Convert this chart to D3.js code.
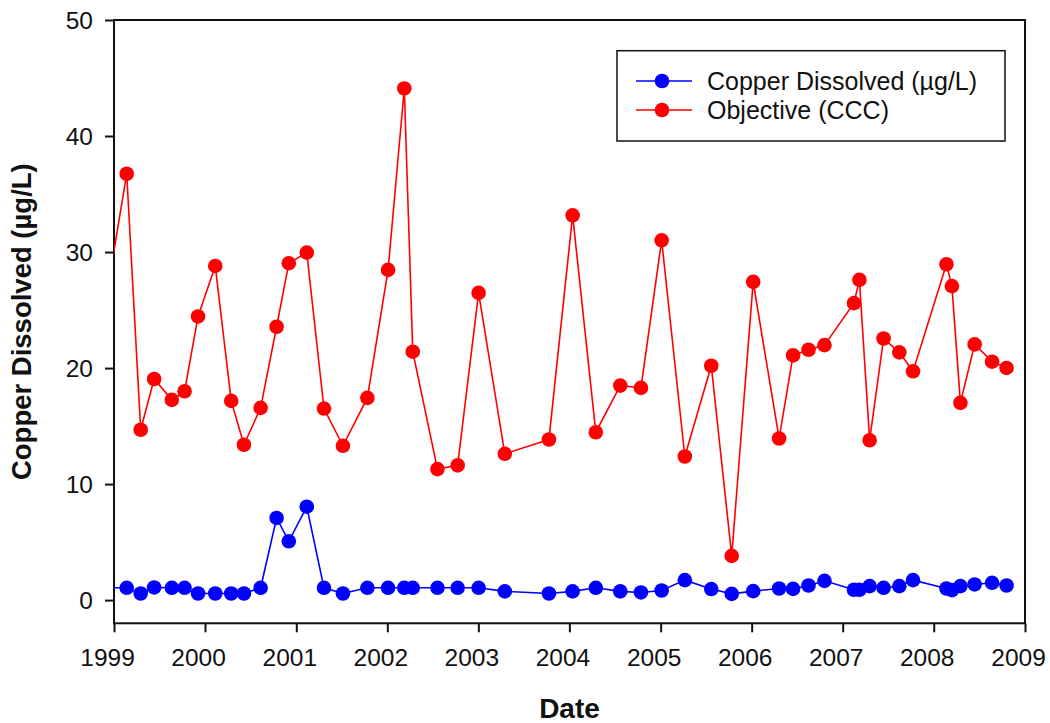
<!DOCTYPE html>
<html>
<head>
<meta charset="utf-8">
<script src="https://cdn.jsdelivr.net/npm/d3@7"></script>
<style>
  html, body { margin: 0; padding: 0; background: #fff; }
  svg { display: block; font-family: "Liberation Sans", Arial, sans-serif; }
</style>
</head>
<body>
<svg id="chart" width="1050" height="723"></svg>
<script>
// ---- Data ----
const sampleDates = [
  "1998-12-01",
  "1999-02-21", "1999-04-18", "1999-06-11", "1999-08-21", "1999-10-11", "1999-12-04",
  "2000-02-11", "2000-04-15", "2000-06-05", "2000-08-11", "2000-10-14", "2000-12-02",
  "2001-02-12", "2001-04-22", "2001-07-07", "2001-10-13",
  "2002-01-04", "2002-03-10", "2002-04-13", "2002-07-21", "2002-10-10",
  "2003-01-02", "2003-04-17", "2003-10-11",
  "2004-01-14", "2004-04-16", "2004-07-23", "2004-10-14",
  "2005-01-05", "2005-04-08", "2005-07-23", "2005-10-13",
  "2006-01-07", "2006-04-21", "2006-06-16", "2006-08-17", "2006-10-20",
  "2007-02-15", "2007-03-09", "2007-04-19", "2007-06-14", "2007-08-16", "2007-10-10",
  "2008-02-21", "2008-03-14", "2008-04-17", "2008-06-13", "2008-08-22", "2008-10-19"
];
const copperDissolved = [
  1.06,
  1.06, 0.57, 1.09, 1.06, 1.06, 0.57,
  0.57, 0.57, 0.57, 1.06, 7.08, 5.07,
  8.05, 1.06, 0.57, 1.06,
  1.06, 1.06, 1.06, 1.06, 1.06,
  1.06, 0.75, 0.57,
  0.75, 1.06, 0.75, 0.66,
  0.83, 1.72, 0.95, 0.54,
  0.77, 1.00, 0.97, 1.26, 1.66,
  0.89, 0.89, 1.20, 1.06, 1.20, 1.72,
  1.00, 0.86, 1.20, 1.35, 1.49, 1.26
];
const objectiveCCC = [
  26.1,
  36.75, 14.68, 19.06, 17.26, 18.0, 24.45,
  28.8, 17.17, 13.39, 16.57, 23.56, 29.04,
  29.95, 16.51, 13.3, 17.43,
  28.46, 44.1, 21.41, 11.29, 11.61,
  26.48, 12.61, 13.84,
  33.16, 14.47, 18.49, 18.29,
  31.01, 12.38, 20.2, 3.81,
  27.43, 13.93, 21.09, 21.58, 21.98,
  25.6, 27.6, 13.78, 22.55, 21.35, 19.72,
  28.95, 27.06, 17.0, 22.04, 20.55, 20.01
];
const seriesNames = ["Copper Dissolved (\u00b5g/L)", "Objective (CCC)"];
const seriesColors = ["#0000ff", "#ff0000"];
const yTickValues = [0, 10, 20, 30, 40, 50];
const xTickYears = [1999, 2000, 2001, 2002, 2003, 2004, 2005, 2006, 2007, 2008, 2009];
const xTitle = "Date";
const yTitle = "Copper Dissolved (\u00b5g/L)";

// ---- Layout ----
const pL = 114, pR = 1025, pT = 20, pB = 623.3;
const svg = d3.select("#chart");
const parse = d3.timeParse("%Y-%m-%d");
const dates = sampleDates.map(parse);

const x = d3.scaleTime()
  .domain([new Date(1999, 0, 1), new Date(2009, 0, 1)])
  .range([pL, pR]);
const y = d3.scaleLinear().domain([-2, 50]).range([pB, pT]);

svg.append("defs").append("clipPath").attr("id", "plotclip")
  .append("rect").attr("x", pL).attr("y", pT - 10)
  .attr("width", pR - pL + 10).attr("height", pB - pT + 10);

// Axes
const fontTick = "24.5px";
const xAxis = svg.append("g").attr("transform", `translate(0,${pB})`)
  .call(d3.axisBottom(x)
    .tickValues(xTickYears.map(yr => new Date(yr, 0, 1)))
    .tickFormat(d3.timeFormat("%Y"))
    .tickSizeInner(9).tickSizeOuter(0).tickPadding(16));
const yAxis = svg.append("g").attr("transform", `translate(${pL},0)`)
  .call(d3.axisLeft(y).tickValues(yTickValues)
    .tickSizeInner(9).tickSizeOuter(0).tickPadding(12));
[xAxis, yAxis].forEach(g => {
  g.select(".domain").remove();
  g.selectAll(".tick line").attr("stroke", "#111").attr("stroke-width", 2);
  g.selectAll(".tick text").attr("fill", "#111")
    .style("font-size", fontTick).style("font-family", "'Liberation Sans', Arial, sans-serif");
});
yAxis.selectAll(".tick text").attr("dy", "0.36em");
xAxis.selectAll(".tick text").attr("dx", -7);

// Frame
svg.append("rect").attr("x", pL).attr("y", pT)
  .attr("width", pR - pL).attr("height", pB - pT)
  .attr("fill", "none").attr("stroke", "#111").attr("stroke-width", 2);

// Series
const plot = svg.append("g").attr("clip-path", "url(#plotclip)");
const seriesValues = [copperDissolved, objectiveCCC];
[1, 0].forEach(si => {
  const vals = seriesValues[si];
  const pts = dates.map((d, i) => ({ d, v: vals[i] }));
  plot.append("path").datum(pts)
    .attr("fill", "none").attr("stroke", seriesColors[si]).attr("stroke-width", 1.6)
    .attr("d", d3.line().x(p => x(p.d)).y(p => y(p.v)));
  plot.selectAll(null).data(pts).enter().append("circle")
    .attr("cx", p => x(p.d)).attr("cy", p => y(p.v)).attr("r", 7.3)
    .attr("fill", seriesColors[si]);
});

// Titles
svg.append("text").attr("x", (pL + pR) / 2).attr("y", 718)
  .attr("text-anchor", "middle").style("font-weight", "bold").style("font-size", "28px")
  .attr("fill", "#111").text(xTitle);
svg.append("text").attr("transform", `translate(31,${(pT + pB) / 2}) rotate(-90)`)
  .attr("text-anchor", "middle").style("font-weight", "bold").style("font-size", "27.5px")
  .attr("fill", "#111").text(yTitle);

// Legend
const lg = svg.append("g");
lg.append("rect").attr("x", 617).attr("y", 50.7).attr("width", 388).attr("height", 90.3)
  .attr("fill", "#fff").attr("stroke", "#111").attr("stroke-width", 1.5);
const rowY = [81, 110];
seriesNames.forEach((name, i) => {
  lg.append("line").attr("x1", 636).attr("x2", 692).attr("y1", rowY[i]).attr("y2", rowY[i])
    .attr("stroke", seriesColors[i]).attr("stroke-width", 1.6);
  lg.append("circle").attr("cx", 662).attr("cy", rowY[i]).attr("r", 7.3).attr("fill", seriesColors[i]);
  lg.append("text").attr("x", 707).attr("y", rowY[i] + 9)
    .style("font-size", "25px").attr("fill", "#111").text(name);
});
</script>
</body>
</html>
